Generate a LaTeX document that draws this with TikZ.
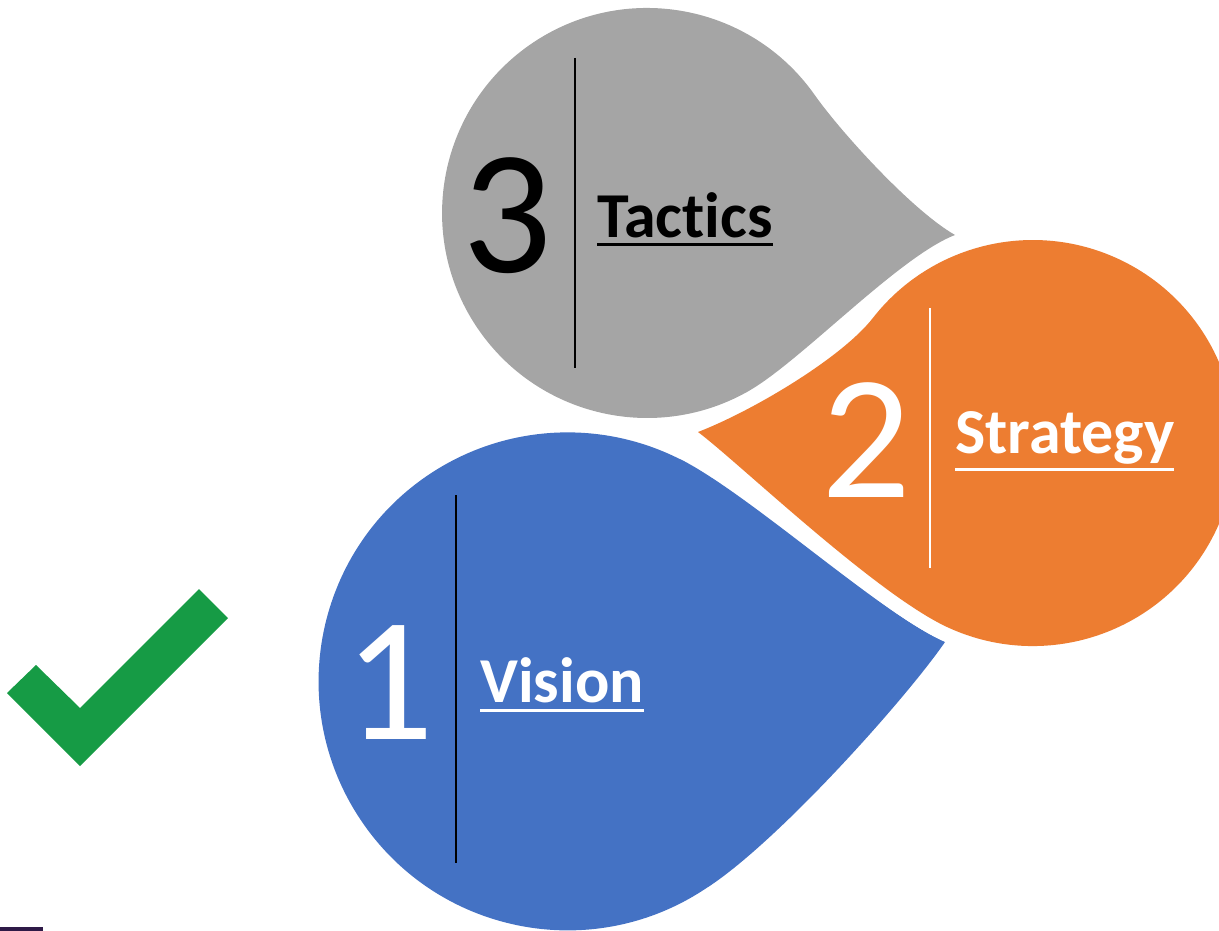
\documentclass[tikz,border=0pt]{standalone}
\usepackage{fontspec}
\setmainfont{Carlito}[Ligatures=NoCommon]
\definecolor{tacticsgray}{HTML}{A5A5A5}
\definecolor{strategyorange}{HTML}{ED7D31}
\definecolor{visionblue}{HTML}{4472C4}
\definecolor{checkgreen}{HTML}{169B45}
\definecolor{barpurple}{HTML}{2E1A47}

\begin{document}
\begin{tikzpicture}[x=1pt,y=-1pt,
  digit/.style={anchor=base,inner sep=0pt,font=\fontsize{177}{180}\selectfont},
  word/.style={anchor=base west,inner sep=0pt,font=\fontsize{64}{70}\selectfont\bfseries},
  uline/.style={line width=3pt},
  divider/.style={line width=2pt}]
\useasboundingbox (0,0) rectangle (1219,931);

\fill [tacticsgray] (749.5,390.5) .. controls (801.5,360.5) and (899,256.6) .. (955,235)
  .. controls (911.5,210) and (840.8,131.9) .. (815,95.4)
  arc [start angle=-35, end angle=-300, radius=205] -- cycle;
\fill [visionblue] (680,459) .. controls (751,495) and (880.6,614) .. (945,642)
  .. controls (905,700) and (775,845) .. (705,889)
  arc [start angle=56.5, end angle=297, radius=249] -- cycle;
\fill [strategyorange, preaction={draw=white, line width=28pt, line join=round}]
  (698,432) .. controls (738,462) and (874.5,593) .. (947,627)
  arc [start angle=115, end angle=-142, radius=203]
  .. controls (842.2,357.4) and (753.8,410.4) .. (698,432) -- cycle;

\fill [checkgreen] (7,693) -- (36,665) -- (80,708) -- (199,589) -- (228,618) -- (80,766) -- cycle;
\fill [barpurple] (0,927) rectangle (43,931);

\draw [divider, black] (575,58) -- (575,368);
\draw [divider, white] (930,308) -- (930,568);
\draw [divider, black] (456,495) -- (456,863);

\node [digit, black] (three) at (507,272) {3};
\node [word, black] (tactics) at (597,237) {Tactics};
\draw [uline, black] ([yshift=-7pt]tactics.base west) -- ([yshift=-7pt]tactics.base east);

\node [digit, white] (two) at (866,497) {2};
\node [word, white] (strategy) at (955,453) {Strategy};
\draw [uline, white] ([yshift=-16pt]strategy.base west) -- ([yshift=-16pt]strategy.base east);

\node [digit, white] (one) at (389,739) {1};
\node [word, white] (vision) at (480,702) {Vision};
\draw [uline, white] ([yshift=-8pt]vision.base west) -- ([yshift=-8pt]vision.base east);
\end{tikzpicture}
\end{document}
